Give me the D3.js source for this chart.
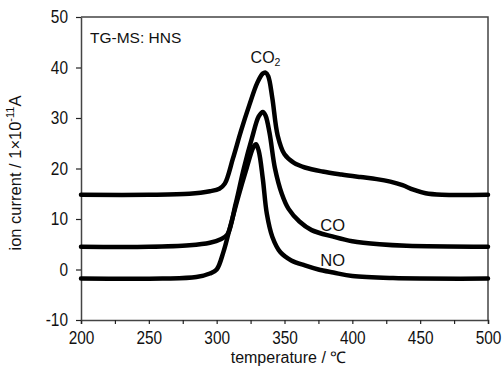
<!DOCTYPE html>
<html>
<head>
<meta charset="utf-8">
<script src="https://cdn.jsdelivr.net/npm/d3@7"></script>
<style>
  body { margin: 0; background: #fff; }
  svg text { font-family: "Liberation Sans", Arial, sans-serif; fill: #111; }
</style>
</head>
<body>
<script>
// temperatures (°C) and ion currents (1e-11 A)
var co2Temp = [200, 250, 280, 295, 302, 306, 312, 318, 324, 330, 334, 336, 338, 341, 345, 350, 357, 365, 378, 392, 406, 418, 428, 437, 445, 454, 466, 500]
var co2Vals = [14.8, 14.8, 15, 15.5, 16, 17, 22, 27.5, 32.5, 37, 38.8, 39, 38.3, 34, 26.5, 22.8, 21.1, 20.2, 19.4, 18.8, 18.3, 17.9, 17.4, 16.7, 15.8, 15.1, 14.8, 14.8]

var coTemp = [200, 250, 280, 295, 303, 308, 314, 320, 326, 331, 334, 336, 339, 343, 348, 353, 361, 370, 386, 400, 420, 440, 500]
var coVals = [4.5, 4.5, 4.8, 5.3, 6, 7, 13, 20, 26, 30.3, 31.2, 30.5, 27, 20, 15, 12, 9.5, 7.8, 6.5, 5.6, 5, 4.7, 4.5]

var noTemp = [200, 260, 285, 295, 300, 305, 310, 316, 322, 327, 329, 331, 334, 337, 341, 347, 355, 365, 375, 386, 400, 430, 500]
var noVals = [-1.8, -1.8, -1.5, -0.8, 0, 3.5, 8.5, 14.5, 20, 24.2, 24.8, 23.5, 18, 11, 6.5, 3.4, 1.8, 0.8, 0, -0.6, -1.3, -1.7, -1.8]

var xTicks = [200, 250, 300, 350, 400, 450, 500]
var yTicks = [-10, 0, 10, 20, 30, 40, 50]

var width = 502, height = 372
var margin = {top: 17, right: 14, bottom: 52, left: 81}
var w = width - margin.left - margin.right
var h = height - margin.top - margin.bottom

var svg = d3.select("body").append("svg")
    .attr("width", width)
    .attr("height", height)

var g = svg.append("g")
    .attr("transform", "translate(" + margin.left + "," + margin.top + ")")

var x = d3.scaleLinear().domain([200, 500]).range([0, w])
var y = d3.scaleLinear().domain([-10, 50]).range([h, 0])

// frame (top and right sides)
g.append("path")
    .attr("d", "M0,0H" + w + "V" + h)
    .attr("fill", "none")
    .attr("stroke", "#444")
    .attr("stroke-width", 1.5)

// x axis: majors with labels, minors every 25
var xAxis = g.append("g")
    .attr("transform", "translate(0," + h + ")")
    .call(d3.axisBottom(x).tickValues(d3.range(200, 501, 25)).tickSize(4).tickPadding(8)
        .tickFormat(d => xTicks.includes(d) ? d : ""))
xAxis.select(".domain").attr("stroke", "#444").attr("stroke-width", 1.5)
xAxis.selectAll(".tick line").attr("stroke", "#222").attr("stroke-width", 1.2)
// slightly condensed digits like the original
xAxis.selectAll("text").attr("font-size", 17.5).attr("font-family", null)
    .attr("transform", "scale(0.88,1)")

var yAxis = g.append("g")
    .call(d3.axisLeft(y).tickValues(yTicks).tickSize(5).tickPadding(8).tickSizeOuter(0)
        .tickFormat(d => String(d)))
yAxis.select(".domain").attr("stroke", "#444").attr("stroke-width", 1.5)
yAxis.selectAll(".tick line").attr("stroke", "#222").attr("stroke-width", 1.2)
yAxis.selectAll("text").attr("font-size", 17.5).attr("font-family", null)
    .attr("x", -14.8).attr("transform", "scale(0.88,1)")

// curves
var line = d3.line()
    .x(d => x(d[0]))
    .y(d => y(d[1]))
    .curve(d3.curveCatmullRom.alpha(0.5))

var series = [
    d3.zip(co2Temp, co2Vals),
    d3.zip(coTemp, coVals),
    d3.zip(noTemp, noVals)
]

g.selectAll(".curve").data(series).join("path")
    .attr("class", "curve")
    .attr("d", line)
    .attr("fill", "none")
    .attr("stroke", "#000")
    .attr("stroke-width", 4.5)
    .attr("stroke-linejoin", "round")
    .attr("stroke-linecap", "round")

// labels
g.append("text")
    .attr("x", 9).attr("y", 26)
    .attr("font-size", 15.5)
    .text("TG-MS: HNS")

var co2Label = g.append("text")
    .attr("x", x(336)).attr("y", y(40.8))
    .attr("text-anchor", "middle")
    .attr("font-size", 16)
co2Label.append("tspan").text("CO")
co2Label.append("tspan").attr("font-size", 10.5).attr("dy", 3).text("2")

g.append("text")
    .attr("x", x(385.5)).attr("y", y(7.6))
    .attr("text-anchor", "middle")
    .attr("font-size", 16.5)
    .text("CO")

g.append("text")
    .attr("x", x(385.5)).attr("y", y(0.6))
    .attr("text-anchor", "middle")
    .attr("font-size", 16.5)
    .text("NO")

// axis titles
svg.append("text")
    .attr("x", margin.left + w / 2 + 4).attr("y", 363)
    .attr("text-anchor", "middle")
    .attr("font-size", 16)
    .text("temperature / \u2103")

var yTitle = svg.append("text")
    .attr("transform", "translate(21,173) rotate(-90)")
    .attr("text-anchor", "middle")
    .attr("font-size", 16.5)
yTitle.append("tspan").text("ion current / 1\u00d710")
yTitle.append("tspan").attr("font-size", 11).attr("dy", -7).text("-11")
yTitle.append("tspan").attr("dy", 7).text("A")
</script>
</body>
</html>
